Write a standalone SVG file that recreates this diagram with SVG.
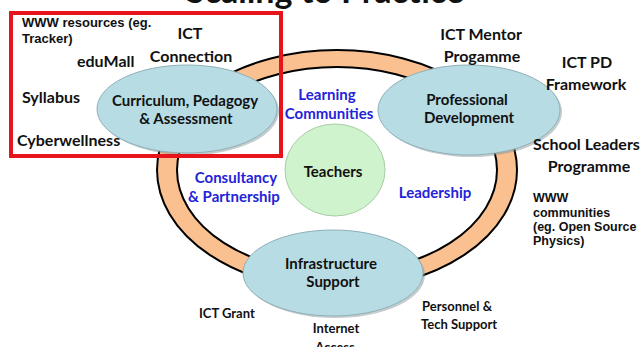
<svg xmlns="http://www.w3.org/2000/svg" width="643" height="347" viewBox="0 0 643 347">
<style>
.lb{font-family:Lato,"Liberation Sans",sans-serif;font-weight:bold;fill:#111}
.s16{font-size:16px}
.s15{font-size:15px}
.s13{font-size:13px}
.blue{font-family:Lato,"Liberation Sans",sans-serif;font-weight:bold;font-size:15px;fill:#2323D8}
.ar{font-family:"Liberation Sans",Arial,sans-serif;font-weight:bold;font-size:12.5px;fill:#111}
.mid{text-anchor:middle}
.node{fill:#B7DCE4;stroke:#8FB0B8;stroke-width:1}
.shadow{fill:#7f8f93;opacity:0.45}
</style>
<rect width="643" height="347" fill="#fff"/>
<text class="lb mid" x="325" y="3" style="font-size:34px">Scaling to Practice</text>
<g id="ring">
<path d="M157,170 a180,120 0 1,0 360,0 a180,120 0 1,0 -360,0 Z M177,170 a160,103 0 1,0 320,0 a160,103 0 1,0 -320,0 Z" fill="#FAC090" fill-rule="evenodd" stroke="#000" stroke-width="2"/>
</g>
<g id="connectors"></g>
<g id="curriculum">
<ellipse class="shadow" cx="189" cy="111" rx="90" ry="44"/>
<ellipse class="node" cx="187" cy="109" rx="90" ry="44"/>
<text class="lb s15 mid" x="185" y="106">Curriculum, Pedagogy</text>
<text class="lb s15 mid" x="186" y="124">&amp; Assessment</text>
</g>
<g id="professional">
<ellipse class="shadow" cx="471" cy="112" rx="91" ry="45"/>
<ellipse class="node" cx="469" cy="110" rx="91" ry="45"/>
<text class="lb s15 mid" x="467" y="105">Professional</text>
<text class="lb s15 mid" x="469" y="123">Development</text>
</g>
<g id="teachers">
<ellipse cx="335" cy="170" rx="50" ry="46" fill="#CFF3CC" stroke="#A9CCA6" stroke-width="1"/>
<text class="lb s15 mid" x="333" y="177">Teachers</text>
</g>
<g id="infrastructure">
<ellipse class="shadow" cx="335" cy="275" rx="90" ry="43"/>
<ellipse class="node" cx="333" cy="273" rx="90" ry="43"/>
<text class="lb s15 mid" x="331" y="269">Infrastructure</text>
<text class="lb s15 mid" x="333" y="287">Support</text>
</g>
<g id="highlight">
<rect x="11" y="13" width="270" height="143" fill="none" stroke="#E8141B" stroke-width="4"/>
</g>
<g id="labels">
<text class="ar" x="22" y="27" style="font-size:13px">WWW resources (eg.</text>
<text class="ar" x="22" y="43" style="font-size:13px">Tracker)</text>
<text class="lb s16 mid" x="190" y="39">ICT</text>
<text class="lb s16 mid" x="191" y="62">Connection</text>
<text class="lb s16" x="77" y="67">eduMall</text>
<text class="lb s16" x="22" y="103">Syllabus</text>
<text class="lb s16" x="17" y="146">Cyberwellness</text>
<text class="lb s16 mid" x="481" y="40">ICT Mentor</text>
<text class="lb s16 mid" x="482" y="62">Progamme</text>
<text class="lb s16 mid" x="587" y="68">ICT PD</text>
<text class="lb s16 mid" x="586" y="90">Framework</text>
<text class="lb s16" x="533" y="150">School Leaders</text>
<text class="lb s16 mid" x="589" y="172">Programme</text>
<text class="ar" x="533" y="202">WWW</text>
<text class="ar" x="533" y="217">communities</text>
<text class="ar" x="533" y="231">(eg. Open Source</text>
<text class="ar" x="533" y="245">Physics)</text>
<text class="blue mid" x="327" y="100">Learning</text>
<text class="blue mid" x="329" y="119">Communities</text>
<text class="blue mid" x="236" y="183">Consultancy</text>
<text class="blue mid" x="234" y="202">&amp; Partnership</text>
<text class="blue mid" x="435" y="198">Leadership</text>
<text class="lb s13" x="199" y="318">ICT Grant</text>
<text class="lb s13 mid" x="336" y="333">Internet</text>
<text class="lb s13 mid" x="335" y="352">Access</text>
<text class="lb s13" x="422" y="311">Personnel &amp;</text>
<text class="lb s13" x="421" y="329">Tech Support</text>
</g>
</svg>
